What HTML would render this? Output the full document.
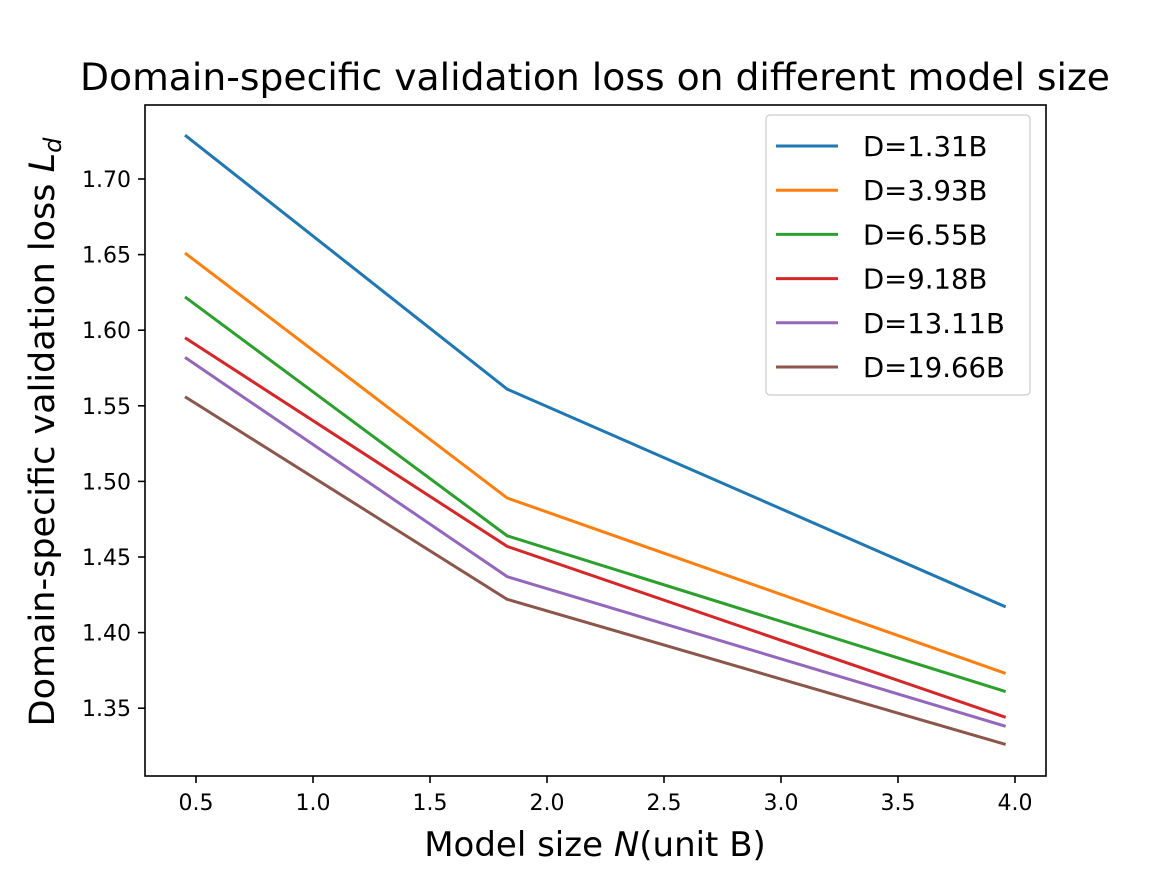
<!DOCTYPE html>
<html><head><meta charset="utf-8"><style>body{margin:0;background:#fff}svg{display:block;font-family:"DejaVu Sans","Liberation Sans",sans-serif}</style></head>
<body>
<svg id="chart" width="1162" height="872" viewBox="0 0 1162 872" xmlns="http://www.w3.org/2000/svg">
<rect width="1162" height="872" fill="#fff"/>
<text x="595" y="90" font-size="37" text-anchor="middle" textLength="1030" lengthAdjust="spacingAndGlyphs">Domain-specific validation loss on different model size</text>
<g id="plot"></g>
<text x="595" y="856" font-size="34" text-anchor="middle">Model size <tspan font-style="italic">N</tspan>(unit B)</text>
<text transform="translate(54,432) rotate(-90)" font-size="35" text-anchor="middle">Domain-specific validation loss <tspan font-style="italic">L</tspan><tspan font-style="italic" font-size="24" dy="7">d</tspan></text>
</svg>
<script>
const xValues=[0.453,1.83,3.96];
const seriesNames=["D=1.31B","D=3.93B","D=6.55B","D=9.18B","D=13.11B","D=19.66B"];
const s1=[1.729,1.561,1.417];
const s2=[1.651,1.489,1.373];
const s3=[1.622,1.464,1.361];
const s4=[1.595,1.457,1.344];
const s5=[1.582,1.437,1.338];
const s6=[1.556,1.422,1.326];
const xTicks=[0.5,1.0,1.5,2.0,2.5,3.0,3.5,4.0];
const yTicks=[1.35,1.40,1.45,1.50,1.55,1.60,1.65,1.70];
const colors=["#1f77b4","#ff7f0e","#2ca02c","#d62728","#9467bd","#8c564b"];
const series=[s1,s2,s3,s4,s5,s6];
const NS="http://www.w3.org/2000/svg";
const L=145,R=1046,T=105,B=776;
const x=v=>196+(v-0.5)*234;
const y=v=>179+(1.70-v)/0.05*75.6;
const g=document.getElementById('plot');
function mk(t,a){const e=document.createElementNS(NS,t);for(const k in a)e.setAttribute(k,a[k]);g.appendChild(e);return e;}
series.forEach((s,i)=>{
 const p=mk('polyline',{points:s.map((v,j)=>x(xValues[j])+','+y(v)).join(' '),fill:'none',stroke:colors[i],'stroke-width':3});
 
 
});
const fr=mk('rect',{x:L,y:T,width:R-L,height:B-T,fill:'none',stroke:'#000','stroke-width':1.6});


xTicks.forEach(v=>{
 const l=mk('line',{x1:x(v),x2:x(v),y1:B,y2:B+7,stroke:'#000','stroke-width':1.6});
 
 
 const t=mk('text',{x:x(v),y:B+34,'font-size':22,'text-anchor':'middle'});t.textContent=v.toFixed(1);
 
 
});
yTicks.forEach(v=>{
 const l=mk('line',{x1:L-7,x2:L,y1:y(v),y2:y(v),stroke:'#000','stroke-width':1.6});
 
 
 const t=mk('text',{x:L-14,y:y(v)+8,'font-size':22,'text-anchor':'end'});t.textContent=v.toFixed(2);
 
 
});
const lb=mk('rect',{x:766,y:115,width:264,height:280,rx:4,fill:'#fff',stroke:'#ccc','stroke-width':1.2});


seriesNames.forEach((n,i)=>{
 const yy=146+i*44.2;
 const l=mk('line',{x1:776,x2:838,y1:yy,y2:yy,stroke:colors[i],'stroke-width':3});
 
 
 const t=mk('text',{x:863,y:yy+10,'font-size':27.5});t.textContent=n;
 
 
});
</script>
</body></html>
